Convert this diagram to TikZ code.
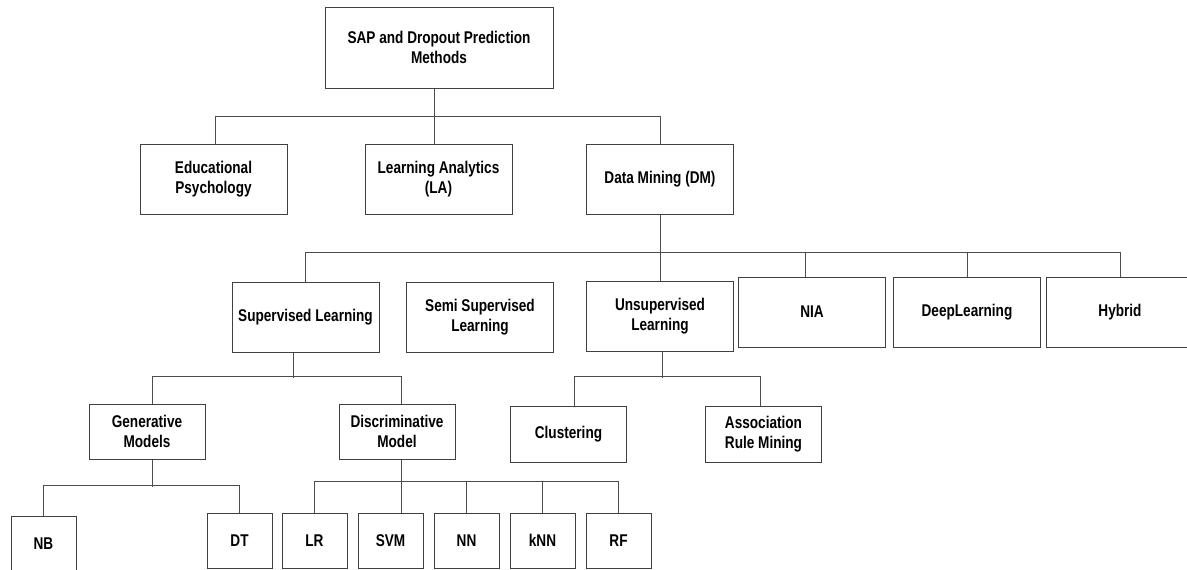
\documentclass[tikz,border=0pt]{standalone}
\usepackage{fontspec}
\setmainfont{Liberation Sans}[FakeStretch=0.8]
\begin{document}
\begin{tikzpicture}[x=1pt,y=-1pt,
    box/.style={draw=black!75,line width=1pt,fill=white,align=center,inner sep=0pt,
      font=\bfseries\fontsize{17}{20.5}\selectfont},
    bigbox/.style={box,minimum width=147pt,minimum height=70pt},
    midbox/.style={box,minimum width=116pt,minimum height=55pt},
    leafbox/.style={box,minimum width=65pt,minimum height=55pt},
    link/.style={draw=black!70,line width=0.8pt}]
  \useasboundingbox (0,0) rectangle (1187,570);
  \clip (0,0) rectangle (1187,570);
  \node[box,minimum width=228pt,minimum height=81pt] (root) at (439,47.5) {SAP and Dropout Prediction\\Methods};
  \node[bigbox] (edu) at (213.5,179) {Educational\\Psychology};
  \node[bigbox] (la) at (438.5,179) {Learning Analytics\\(LA)};
  \node[bigbox] (dm) at (660,179) {Data Mining (DM)};
  \node[bigbox] (sup) at (305.5,317) {Supervised Learning};
  \node[bigbox] (semi) at (480,317) {Semi Supervised\\Learning};
  \node[bigbox] (unsup) at (660,316) {Unsupervised\\Learning};
  \node[bigbox] (nia) at (812,312) {NIA};
  \node[bigbox] (deep) at (967,312) {DeepLearning};
  \node[bigbox] (hybrid) at (1120,312) {Hybrid};
  \node[midbox] (gen) at (147,431.5) {Generative\\Models};
  \node[midbox] (disc) at (397,431.5) {Discriminative\\Model};
  \node[midbox,minimum height=56pt] (clus) at (568.5,434) {Clustering};
  \node[midbox,minimum height=56pt] (assoc) at (763.5,434) {Association\\Rule Mining};
  \node[leafbox] (nb) at (43.5,543.5) {NB};
  \node[leafbox] (dt) at (239.5,540.5) {DT};
  \node[leafbox] (lr) at (314.5,540.5) {LR};
  \node[leafbox] (svm) at (390.5,540.5) {SVM};
  \node[leafbox] (nn) at (466.5,540.5) {NN};
  \node[leafbox] (knn) at (542.5,540.5) {kNN};
  \node[leafbox] (rf) at (618.5,540.5) {RF};

  \draw[link] ([xshift=-5pt]root.south) -- ([xshift=-5pt]root.south |- la.north);
  \draw[link] ([xshift=2pt]edu.north) -- ++(0,-27) -| (dm.north);
  \draw[link] (dm.south) -- (unsup.north);
  \draw[link] (sup.north) -- ++(0,-29) -| (hybrid.north);
  \draw[link] ([xshift=-7pt]nia.north) -- ++(0,-24);
  \draw[link] (deep.north) -- ++(0,-24);
  \draw[link] ([xshift=-12pt]sup.south) -- ++(0,25);
  \draw[link] ([xshift=5pt]gen.north) -- ++(0,-27) -| ([xshift=4pt]disc.north);
  \draw[link] ([xshift=2pt]unsup.south) -- ++(0,26);
  \draw[link] ([xshift=6pt]clus.north) -- ++(0,-29) -| ([xshift=-3pt]assoc.north);
  \draw[link] ([xshift=5pt]gen.south) -- ++(0,27);
  \draw[link] (nb.north) -- ++(0,-30) -| (dt.north);
  \draw[link] ([xshift=4pt]disc.south) -- ([xshift=4pt]disc.south |- svm.north);
  \draw[link] (lr.north) -- ++(0,-31) -| (rf.north);
  \draw[link] (nn.north) -- ++(0,-31);
  \draw[link] (knn.north) -- ++(0,-31);
\end{tikzpicture}
\end{document}
